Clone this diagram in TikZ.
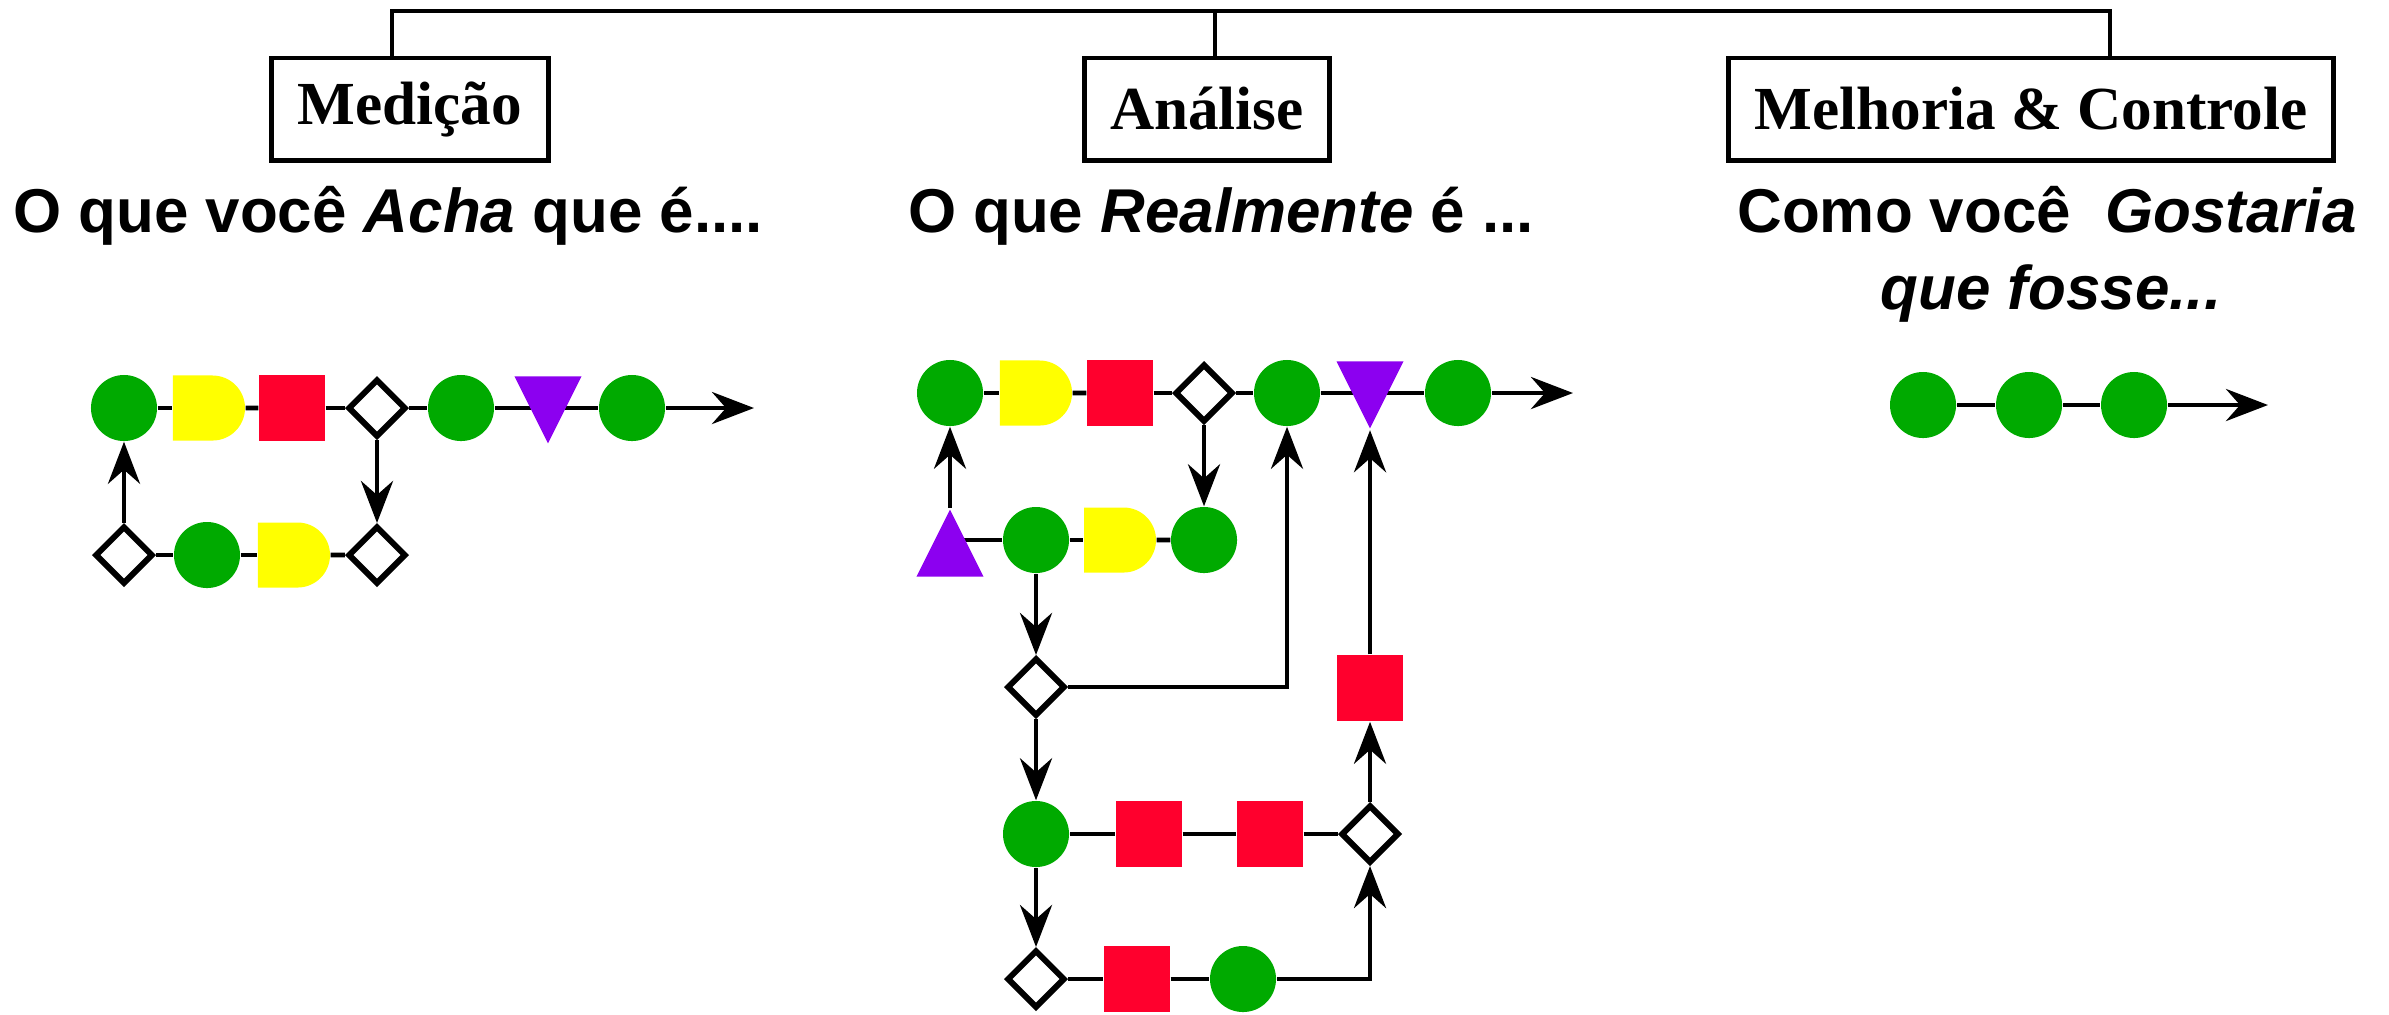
\documentclass[tikz,border=0pt]{standalone}
\usepackage{fontspec}
\usetikzlibrary{arrows.meta,shapes.geometric,shapes.misc,backgrounds}
\newfontfamily\rotulo{Liberation Serif}
\newfontfamily\legenda{Liberation Sans}
\definecolor{verde}{RGB}{0,170,0}
\definecolor{amarelo}{RGB}{255,255,0}
\definecolor{vermelho}{RGB}{255,0,45}
\definecolor{roxo}{RGB}{140,0,240}

\tikzset{
  fase/.style={draw, line width=1.4pt, inner xsep=0.26cm, minimum height=1.02cm,
    font=\rotulo\fontsize{17.4pt}{20pt}\selectfont\bfseries},
  titulo/.style={inner sep=0, anchor=base, font=\legenda\fontsize{17.6pt}{21.9pt}\selectfont\bfseries},
  circ/.style={circle, fill=verde, minimum size=0.66cm, inner sep=0},
  quad/.style={rectangle, fill=vermelho, minimum size=0.66cm, inner sep=0},
  losango/.style={diamond, draw, line width=1.7pt, fill=white, minimum width=0.58cm, minimum height=0.58cm, inner sep=0},
  atraso/.style={rounded rectangle, rounded rectangle left arc=none, fill=amarelo,
    minimum width=0.72cm, minimum height=0.65cm, inner sep=0},
  tribaixo/.style={isosceles triangle, isosceles triangle stretches, shape border rotate=-90,
    fill=roxo, minimum width=0.67cm, minimum height=0.67cm, inner sep=0},
  tricima/.style={tribaixo, shape border rotate=90},
  liga/.style={line width=1.4pt},
  seta/.style={line width=1.4pt, -{Stealth[length=0.42cm, width=0.32cm, inset=0.14cm]}},
}

\begin{document}
\begin{tikzpicture}[x=0.01cm, y=-0.01cm]

  \useasboundingbox (0,0) rectangle (2389,1014);

  % Phase boxes and the bracket above them.
  \node[fase] (med) at (410,109) {Medição};
  \node[fase] (ana) at (1207,109) {Análise};
  \node[fase] (mel) at (2031,109) {Melhoria \& Controle};
  \coordinate (b1) at (392,11);
  \coordinate (b2) at (1215,11);
  \coordinate (b3) at (2110,11);
  \draw[line width=1.2pt] (b1 |- med.north) -- (b1) -- (b3) -- (b3 |- mel.north);
  \draw[line width=1.2pt] (b2) -- (b2 |- ana.north);

  % Subtitles.
  \node[titulo] (t1) at (388,232) {O que você \textit{Acha} que é....};
  \node[titulo] (t2) at (1221,232) {O que \textit{Realmente} é ...};
  \node[titulo] (t3) at (2047,232) {Como você~ \textit{Gostaria}};
  \node[titulo] (t4) at (2051,309) {\textit{que fosse...}};

  % Medicao: process as one thinks it is.
  % (triangle centres sit at the centroid, hence the 11 offset)
  \node[circ] (mc1) at (124,408) {};
  \node[atraso] (ma1) at (209,408) {};
  \node[quad] (mq1) at (292,408) {};
  \node[losango] (md1) at (377,408) {};
  \node[circ] (mc2) at (461,408) {};
  \node[tribaixo] (mt1) at (548,397) {};
  \node[circ] (mc3) at (632,408) {};
  \coordinate (mfim) at (754,408);
  \node[losango] (md2) at (124,555) {};
  \node[circ] (mc4) at (207,555) {};
  \node[atraso] (ma2) at (294,555) {};
  \node[losango] (md3) at (377,555) {};

  \foreach \a/\b in {mc1/ma1, ma1/mq1, mq1/md1, md1/mc2,
                     md2/mc4, mc4/ma2, ma2/md3}
    \draw[liga] (\a) -- (\b);
  \draw[seta] (mc3) -- (mfim);
  \draw[seta] (md2) -- (mc1);
  \draw[seta] (md1) -- (md3);

  % Analise: process as it really is.
  \node[circ] (ac1) at (950,393) {};
  \node[atraso] (aa1) at (1036,393) {};
  \node[quad] (aq1) at (1120,393) {};
  \node[losango] (ad1) at (1204,393) {};
  \node[circ] (ac2) at (1287,393) {};
  \node[tribaixo] (at1) at (1370,382) {};
  \node[circ] (ac3) at (1458,393) {};
  \coordinate (afim) at (1573,393);

  \node[tricima] (at2) at (950,556) {};
  \node[circ] (ac4) at (1036,540) {};
  \node[atraso] (aa2) at (1120,540) {};
  \node[circ] (ac5) at (1204,540) {};

  \node[losango] (ad2) at (1036,687) {};
  \node[quad] (aq2) at (1370,688) {};

  \node[circ] (ac6) at (1036,834) {};
  \node[quad] (aq3) at (1149,834) {};
  \node[quad] (aq4) at (1270,834) {};
  \node[losango] (ad3) at (1370,834) {};

  \node[losango] (ad4) at (1036,979) {};
  \node[quad] (aq5) at (1137,979) {};
  \node[circ] (ac7) at (1243,979) {};

  \foreach \a/\b in {ac1/aa1, aa1/aq1, aq1/ad1, ad1/ac2,
                     ac4/aa2, aa2/ac5, ac6/aq3, aq3/aq4, aq4/ad3,
                     ad4/aq5, aq5/ac7}
    \draw[liga] (\a) -- (\b);
  \draw[seta] (ac3) -- (afim);
  \draw[seta] (at2) -- (ac1);
  \draw[seta] (ad1) -- (ac5);
  \draw[seta] (ac4) -- (ad2);
  \draw[seta] (ad2) -| (ac2);
  \draw[seta] (aq2) -- (at1);
  \draw[seta] (ad2) -- (ac6);
  \draw[seta] (ad3) -- (aq2);
  \draw[seta] (ac6) -- (ad4);
  \draw[seta] (ac7) -| (ad3);

  % Lines that pass behind the triangles.
  \begin{scope}[on background layer]
    \draw[liga] (mc2) -- (mc3);
    \draw[liga] (ac2) -- (ac3);
    \draw[liga] (ac4) -- (ac4 -| at2);
  \end{scope}

  % Melhoria: process as one would like it.
  \node[circ] (gc1) at (1923,405) {};
  \node[circ] (gc2) at (2029,405) {};
  \node[circ] (gc3) at (2134,405) {};
  \coordinate (gfim) at (2268,405);
  \draw[liga] (gc1) -- (gc2);
  \draw[liga] (gc2) -- (gc3);
  \draw[seta] (gc3) -- (gfim);

\end{tikzpicture}
\end{document}
